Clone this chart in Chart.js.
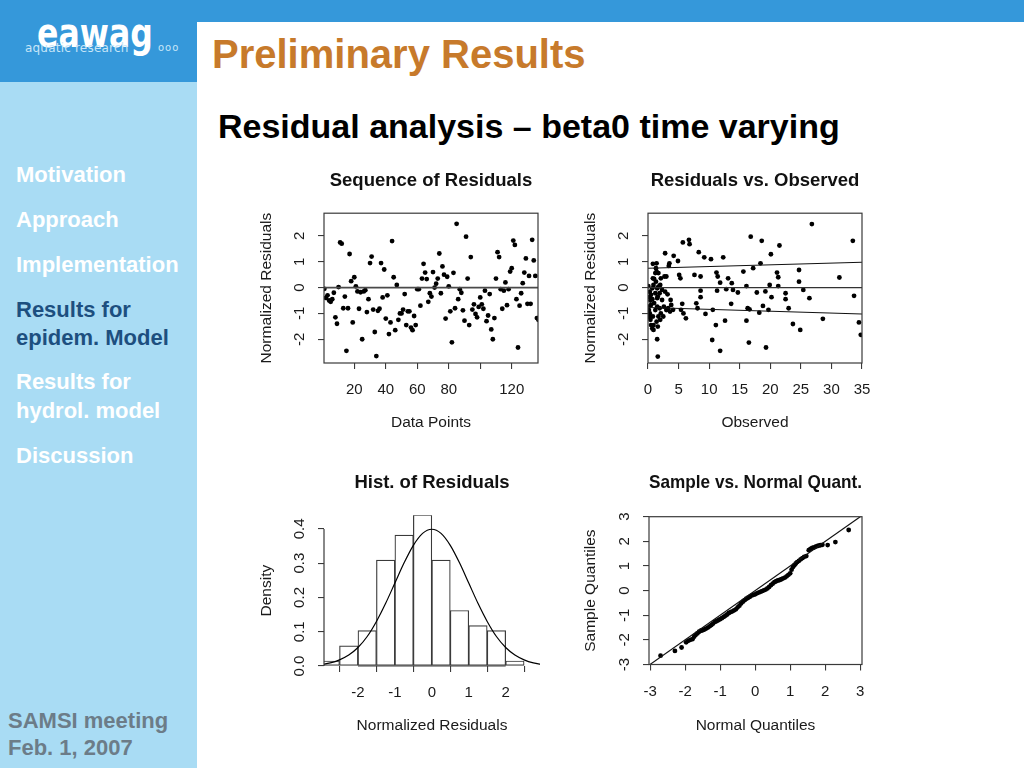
<!DOCTYPE html>
<html lang="en">
<head>
<meta charset="utf-8">
<title>Preliminary Results – Residual analysis</title>
<script src="https://cdn.jsdelivr.net/npm/chart.js@4.4.1/dist/chart.umd.min.js"></script>
<style>
html,body{margin:0;padding:0;}
body{width:1024px;height:768px;position:relative;overflow:hidden;background:#fff;font-family:"Liberation Sans",Arial,Helvetica,sans-serif;}
#topbar{position:absolute;left:0;top:0;width:1024px;height:22px;background:#3598da;}
#logobox{position:absolute;left:0;top:0;width:197px;height:82px;background:#3598da;}
#sidebar{position:absolute;left:0;top:82px;width:197px;height:686px;background:#a9dcf4;}
.logo-word{position:absolute;left:37px;top:13px;font-family:"DejaVu Sans",sans-serif;font-weight:bold;font-size:41px;line-height:40px;color:#fff;transform:scaleX(0.77);transform-origin:0 0;white-space:nowrap;}
.logo-sub{position:absolute;left:25px;top:41px;font-family:"DejaVu Sans",sans-serif;font-size:12px;line-height:14px;color:#c7e6f8;letter-spacing:0.2px;white-space:nowrap;}
.logo-ooo{position:absolute;left:158px;top:42px;font-family:"DejaVu Sans",sans-serif;font-size:10px;line-height:12px;color:#c7e6f8;letter-spacing:1px;}
.nav{position:absolute;left:16px;font-weight:bold;font-size:22px;line-height:28px;color:#fff;white-space:nowrap;}
.nav.active{color:#1d4f7f;}
.foot{position:absolute;left:8px;font-weight:bold;font-size:22px;line-height:28px;color:#6c7c88;white-space:nowrap;}
#title{position:absolute;left:212px;top:34px;font-weight:bold;font-size:40px;line-height:40px;color:#c77a2b;white-space:nowrap;}
#subtitle{position:absolute;left:218px;top:109px;font-weight:bold;font-size:34px;line-height:34px;color:#000;white-space:nowrap;}
.cw{position:absolute;}
</style>
</head>
<body>
<div id="topbar"></div>
<div id="logobox"></div>
<div id="sidebar"></div>
<div class="logo-word">eawag</div>
<div class="logo-sub">aquatic research</div>
<div class="logo-ooo">ooo</div>

<div class="nav" style="top:161px">Motivation</div>
<div class="nav" style="top:206px">Approach</div>
<div class="nav" style="top:251px">Implementation</div>
<div class="nav active" style="top:296px">Results for</div>
<div class="nav active" style="top:324px">epidem. Model</div>
<div class="nav" style="top:368px">Results for</div>
<div class="nav" style="top:397px">hydrol. model</div>
<div class="nav" style="top:442px">Discussion</div>
<div class="foot" style="top:707px">SAMSI meeting</div>
<div class="foot" style="top:734px">Feb. 1, 2007</div>

<div id="title">Preliminary Results</div>
<div id="subtitle">Residual analysis – beta0 time varying</div>

<div class="cw" style="left:240px;top:160px;width:320px;height:275px"><canvas id="seqChart" width="320" height="275"></canvas></div>
<div class="cw" style="left:565px;top:160px;width:320px;height:275px"><canvas id="obsChart" width="320" height="275"></canvas></div>
<div class="cw" style="left:240px;top:463px;width:320px;height:275px"><canvas id="histChart" width="320" height="275"></canvas></div>
<div class="cw" style="left:565px;top:463px;width:320px;height:275px"><canvas id="qqChart" width="320" height="275"></canvas></div>

<script>
// ---------- data ----------
// Sequence of residuals (normalized residual for each data point, in order)
const seqResiduals = [-0.05,-0.40,-0.30,-0.50,-0.55,-0.45,-0.20,-1.15,-1.40,0.02,1.75,1.70,-0.80,-0.35,-2.45,-0.80,1.30,0.25,-1.35,0.40,0.05,-0.15,-0.82,-0.18,-2.00,-0.15,-0.10,-0.95,-0.45,0.95,1.20,-0.85,-1.72,-2.65,-0.90,-0.82,0.95,-0.38,0.70,-1.20,-0.30,-1.80,-1.35,1.80,0.40,-1.65,0.10,-1.25,-1.00,-1.00,-0.85,-0.25,-1.45,-0.92,-0.92,-1.55,-1.65,-1.10,-1.45,-0.06,-0.06,-0.70,0.35,0.92,0.58,0.33,-0.55,-0.22,-0.35,0.60,0.00,0.15,0.35,1.32,-0.22,0.82,0.50,-1.20,0.42,0.05,-0.92,-2.12,0.57,-0.80,2.47,-0.45,-0.06,-0.20,-0.88,-1.28,1.97,0.35,-1.45,1.18,-0.85,-0.65,-1.02,-1.15,-0.75,-0.38,-0.65,-0.82,-0.12,-1.30,-1.08,-0.25,-1.62,-2.00,-1.18,0.35,1.37,1.18,-0.06,-0.82,-0.12,0.20,-0.68,-0.06,0.62,0.75,1.82,1.65,-0.45,-2.32,-0.70,-0.22,0.17,0.58,1.13,-0.63,0.45,-0.63,1.85,1.05,0.45,-1.18,-1.25];
const seqZeroLineX = [-10, 150];
const seqZeroLineY = [0, 0];

// Residuals vs. observed
const obsValues = [0.3,0.2,0.4,0.1,0.2,0.4,0.5,0.7,0.9,1.2,1.4,1.3,0.8,1.0,1.5,1.7,0.7,0.9,0.5,1.2,1.5,1.6,1.2,1.5,1.9,2.1,1.7,1.4,1.6,0.9,1.7,2.1,2.7,2.0,2.8,2.3,2.6,3.0,2.5,2.0,0.05,0.15,0.3,0.5,0.7,0.8,1.0,1.3,1.9,2.3,3.3,3.6,1.6,1.5,0.8,1.4,
  2.8,3.0,3.2,3.5,3.4,3.7,3.8,4.2,4.1,4.9,5.1,5.3,5.4,5.6,5.7,5.8,6.2,6.7,6.8,7.6,7.9,8.1,8.3,8.6,8.6,8.6,9.2,9.4,10.3,10.6,10.5,11.1,11.2,11.4,11.3,11.8,11.8,12.3,12.6,12.8,13.1,13.6,13.7,13.9,14.7,15.6,16.1,16.1,16.3,16.5,16.6,16.8,17.2,17.8,18.2,18.4,18.6,18.8,19.2,19.3,19.7,19.9,20.1,20.2,21.1,21.3,21.3,21.5,22.5,22.5,23.0,23.7,24.7,24.7,24.9,25.4,26.4,26.8,28.6,31.3,33.5,33.7,34.5,34.8];
const obsResiduals = [-0.16,-0.37,-0.50,-0.74,-1.12,-1.25,-1.45,-1.58,-1.64,0.56,0.94,0.75,0.36,0.34,-0.03,0.04,-0.03,0.10,-0.28,-0.22,-0.41,-0.35,-0.87,-0.74,-0.80,-1.00,-1.12,-1.32,-1.51,-1.45,0.56,0.36,0.43,0.10,-0.16,-0.48,-0.74,-0.87,-1.12,-1.25,0.06,-0.87,-1.00,-0.67,-0.45,-1.12,-0.60,0.23,-0.22,-0.09,-0.80,-0.93,-2.67,-2.00,0.92,0.62,
  1.33,0.43,-0.26,0.94,0.84,-0.48,-0.67,1.23,-0.86,1.03,0.49,0.36,-0.86,-0.63,1.75,-1.00,-1.19,1.85,1.68,0.49,-0.61,-0.80,1.37,0.43,-0.12,-0.37,1.17,-1.02,1.10,-0.86,-2.03,-1.45,0.58,0.43,-0.12,0.19,-2.45,1.17,-1.28,-0.06,0.36,-0.63,0.17,-0.09,-0.19,0.62,0.06,-1.28,-0.80,-2.13,-0.84,1.97,0.75,-0.19,-0.97,0.94,1.81,-0.71,-0.15,-2.32,-0.86,0.10,1.29,-0.37,0.58,0.40,0.06,1.63,-0.22,-0.45,-0.80,-1.41,0.68,0.23,-1.64,-0.09,-0.41,2.46,-1.21,0.39,1.81,-0.32,-1.35,-1.83];
const obsLineX = [0, 35];
const obsZeroY = [0, 0];
const obsUpperY = [0.75, 0.98];
const obsLowerY = [-0.77, -1.02];

// Histogram of residuals
const histBreaks = [-3,-2.5,-2,-1.5,-1,-0.5,0,0.5,1,1.5,2,2.5];
const histDensity = [0.0147,0.0588,0.103,0.309,0.382,0.441,0.309,0.162,0.118,0.103,0.0147];
const densityX = [-3,-2.75,-2.5,-2.25,-2,-1.75,-1.5,-1.25,-1,-0.75,-0.5,-0.25,0,0.25,0.5,0.75,1,1.25,1.5,1.75,2,2.25,2.5,2.75,3];
const densityY = [0.004,0.009,0.018,0.032,0.054,0.086,0.130,0.183,0.242,0.301,0.352,0.387,0.399,0.387,0.352,0.301,0.242,0.183,0.130,0.086,0.054,0.032,0.018,0.009,0.004];

// Normal Q-Q
const qqTheoretical = [-2.70,-2.29,-2.10,-1.97,-1.91,-1.85,-1.79,-1.74,-1.70,-1.65,-1.60,-1.55,-1.50,-1.45,-1.40,-1.35,-1.30,-1.25,-1.20,-1.15,-1.10,-1.05,-1.00,-0.95,-0.90,-0.85,-0.80,-0.75,-0.70,-0.65,-0.60,-0.55,-0.50,-0.45,-0.40,-0.35,-0.30,-0.25,-0.20,-0.15,-0.10,-0.05,0.00,0.05,0.10,0.15,0.20,0.25,0.30,0.35,0.40,0.45,0.50,0.55,0.60,0.65,0.70,0.75,0.80,0.85,0.90,0.95,1.00,1.04,1.08,1.12,1.16,1.20,1.25,1.30,1.35,1.40,1.46,1.53,1.58,1.63,1.68,1.74,1.80,1.86,1.92,2.07,2.29,2.67];
const qqSample = [-2.64,-2.45,-2.31,-2.10,-2.04,-2.00,-1.97,-1.87,-1.80,-1.74,-1.67,-1.63,-1.61,-1.58,-1.54,-1.50,-1.45,-1.40,-1.34,-1.27,-1.24,-1.20,-1.16,-1.12,-1.07,-1.02,-0.97,-0.91,-0.87,-0.84,-0.80,-0.76,-0.68,-0.61,-0.52,-0.45,-0.39,-0.33,-0.29,-0.25,-0.20,-0.17,-0.15,-0.11,-0.08,-0.05,-0.02,0.01,0.04,0.09,0.15,0.22,0.28,0.34,0.38,0.41,0.43,0.46,0.50,0.53,0.58,0.64,0.70,0.85,0.96,1.03,1.10,1.16,1.21,1.27,1.32,1.37,1.40,1.64,1.69,1.73,1.75,1.79,1.82,1.84,1.86,1.85,1.97,2.46];
const qqLineX = [-3.5, 3.5];
const qqLineY = [-3.5, 3.5];

// Tick values and labels
const seqXTicks = [20, 40, 60, 80, 100, 120];
const seqXLabels = ['20', '40', '60', '80', '', '120'];
const residTicks = [-2, -1, 0, 1, 2];
const residLabels = ['-2', '-1', '0', '1', '2'];
const obsXTicks = [0, 5, 10, 15, 20, 25, 30, 35];
const obsXLabels = ['0', '5', '10', '15', '20', '25', '30', '35'];
const histXTicks = [-2, -1, 0, 1, 2];
const histXLabels = ['-2', '-1', '0', '1', '2'];
const densityTicks = [0, 0.1, 0.2, 0.3, 0.4];
const densityLabels = ['0.0', '0.1', '0.2', '0.3', '0.4'];
const quantTicks = [-3, -2, -1, 0, 1, 2, 3];
const quantLabels = ['-3', '-2', '-1', '0', '1', '2', '3'];

// ---------- styling helpers ----------
const FONT_FAMILY = '"Liberation Sans", Arial, Helvetica, sans-serif';
const INK = '#1a1a1a';
const FRAME = '#3a3a3a';

const rFrame = {
  id: 'rFrame',
  afterDatasetsDraw(chart, args, opts) {
    const {ctx, chartArea: a, scales} = chart;
    ctx.save();
    ctx.strokeStyle = FRAME;
    ctx.lineWidth = 1.2;
    if (opts.box) {
      ctx.strokeRect(a.left, a.top, a.right - a.left, a.bottom - a.top);
    } else {
      const xs = scales.x, ys = scales.y;
      const xt = xs.ticks, yt = ys.ticks;
      ctx.beginPath();
      ctx.moveTo(xs.getPixelForValue(xt[0].value), a.bottom);
      ctx.lineTo(xs.getPixelForValue(xt[xt.length - 1].value), a.bottom);
      ctx.moveTo(a.left, ys.getPixelForValue(yt[0].value));
      ctx.lineTo(a.left, ys.getPixelForValue(yt[yt.length - 1].value));
      ctx.stroke();
    }
    ctx.restore();
  }
};

function rScale({min, max, ticks, labels, title, size, tickPad, titlePad, vertical}) {
  return {
    type: 'linear', min, max, offset: false,
    afterBuildTicks: (s) => { s.ticks = ticks.map(v => ({value: v})); },
    afterFit: (s) => { if (vertical) s.width = size; else s.height = size; },
    grid: {drawOnChartArea: false, drawTicks: true, tickLength: 6, color: FRAME, lineWidth: 1.1},
    border: {display: false},
    ticks: {
      autoSkip: false,
      callback: (v) => { const i = ticks.indexOf(v); return i >= 0 ? labels[i] : ''; },
      color: INK,
      font: {family: FONT_FAMILY, size: 15},
      padding: tickPad,
      minRotation: vertical ? 90 : 0,
      maxRotation: vertical ? 90 : 0,
      crossAlign: vertical ? 'center' : 'near'
    },
    title: {
      display: true, text: title, color: INK,
      font: {family: FONT_FAMILY, size: 15.5},
      padding: vertical ? {top: titlePad, bottom: 0} : {top: 0, bottom: titlePad}
    }
  };
}

function rOptions({title, titleTop, titleBottom, padRight, box, x, y}) {
  return {
    responsive: false,
    animation: false,
    devicePixelRatio: window.devicePixelRatio || 1,
    layout: {padding: {left: 0, right: padRight, top: 0, bottom: 0}},
    plugins: {
      legend: {display: false},
      tooltip: {enabled: false},
      title: {
        display: true, text: title, fullSize: false, color: '#111',
        font: {family: FONT_FAMILY, size: 18.5, weight: 'bold'},
        padding: {top: titleTop, bottom: titleBottom}
      },
      rFrame: {box}
    },
    scales: {x: rScale(x), y: rScale(y)}
  };
}

const dotStyle = {backgroundColor: '#000', borderColor: '#000', borderWidth: 0, pointRadius: 2.4, pointHoverRadius: 2.4};

// ---------- 1. Sequence of residuals ----------
new Chart(document.getElementById('seqChart'), {
  type: 'scatter',
  data: {datasets: [
    {type: 'line', data: seqZeroLineX.map((x, i) => ({x, y: seqZeroLineY[i]})), borderColor: '#4a4a4a', borderWidth: 1.6, pointRadius: 0, order: 0, clip: 0},
    Object.assign({data: seqResiduals.map((r, i) => ({x: i + 1, y: r})), order: 1}, dotStyle)
  ]},
  options: rOptions({
    title: 'Sequence of Residuals', titleTop: 10, titleBottom: 21, padRight: 22, box: true,
    x: {min: 0.75, max: 136.7, ticks: seqXTicks, labels: seqXLabels, title: 'Data Points', size: 72, tickPad: 12, titlePad: 3},
    y: {min: -2.92, max: 2.88, ticks: residTicks, labels: residLabels, title: 'Normalized Residuals', size: 84, tickPad: 11, titlePad: 17, vertical: true}
  }),
  plugins: [rFrame]
});

// ---------- 2. Residuals vs. observed ----------
new Chart(document.getElementById('obsChart'), {
  type: 'scatter',
  data: {datasets: [
    {type: 'line', data: obsLineX.map((x, i) => ({x, y: obsZeroY[i]})), borderColor: '#333', borderWidth: 1.3, pointRadius: 0, order: 0, clip: 0},
    {type: 'line', data: obsLineX.map((x, i) => ({x, y: obsUpperY[i]})), borderColor: '#111', borderWidth: 1.1, pointRadius: 0, order: 0, clip: 0},
    {type: 'line', data: obsLineX.map((x, i) => ({x, y: obsLowerY[i]})), borderColor: '#111', borderWidth: 1.1, pointRadius: 0, order: 0, clip: 0},
    Object.assign({data: obsValues.map((v, i) => ({x: v, y: obsResiduals[i]})), order: 1}, dotStyle)
  ]},
  options: rOptions({
    title: 'Residuals vs. Observed', titleTop: 10, titleBottom: 21, padRight: 23, box: true,
    x: {min: 0, max: 35, ticks: obsXTicks, labels: obsXLabels, title: 'Observed', size: 72, tickPad: 12, titlePad: 3},
    y: {min: -2.92, max: 2.88, ticks: residTicks, labels: residLabels, title: 'Normalized Residuals', size: 83, tickPad: 11, titlePad: 16, vertical: true}
  }),
  plugins: [rFrame]
});

// ---------- 3. Histogram ----------
new Chart(document.getElementById('histChart'), {
  type: 'bar',
  data: {datasets: [
    {type: 'line', data: densityX.map((x, i) => ({x, y: densityY[i]})), borderColor: '#000', borderWidth: 1.2, pointRadius: 0, cubicInterpolationMode: 'monotone', order: 0, clip: 0},
    {type: 'bar', data: histDensity.map((d, i) => ({x: (histBreaks[i] + histBreaks[i + 1]) / 2, y: d})),
      backgroundColor: '#fff', borderColor: FRAME, borderWidth: 1.2, borderSkipped: false,
      barPercentage: 1, categoryPercentage: 1, order: 1}
  ]},
  options: rOptions({
    title: 'Hist. of Residuals', titleTop: 9, titleBottom: 21, padRight: 20, box: false,
    x: {min: -2.92, max: 2.93, ticks: histXTicks, labels: histXLabels, title: 'Normalized Residuals', size: 72, tickPad: 12, titlePad: 3},
    y: {min: 0, max: 0.44, ticks: densityTicks, labels: densityLabels, title: 'Density', size: 84, tickPad: 7.5, titlePad: 17, vertical: true}
  }),
  plugins: [rFrame]
});

// ---------- 4. Normal Q-Q ----------
new Chart(document.getElementById('qqChart'), {
  type: 'scatter',
  data: {datasets: [
    {type: 'line', data: qqLineX.map((x, i) => ({x, y: qqLineY[i]})), borderColor: '#111', borderWidth: 1.1, pointRadius: 0, order: 0, clip: 0},
    Object.assign({data: qqTheoretical.map((q, i) => ({x: q, y: qqSample[i]})), order: 1}, dotStyle)
  ]},
  options: rOptions({
    title: 'Sample vs. Normal Quant.', titleTop: 9, titleBottom: 22.5, padRight: 23, box: true,
    x: {min: -3.03, max: 3.05, ticks: quantTicks, labels: quantLabels, title: 'Normal Quantiles', size: 73.5, tickPad: 12, titlePad: 3},
    y: {min: -3, max: 3, ticks: quantTicks, labels: quantLabels, title: 'Sample Quantiles', size: 84, tickPad: 11, titlePad: 16, vertical: true}
  }),
  plugins: [rFrame]
});
</script>
</body>
</html>
